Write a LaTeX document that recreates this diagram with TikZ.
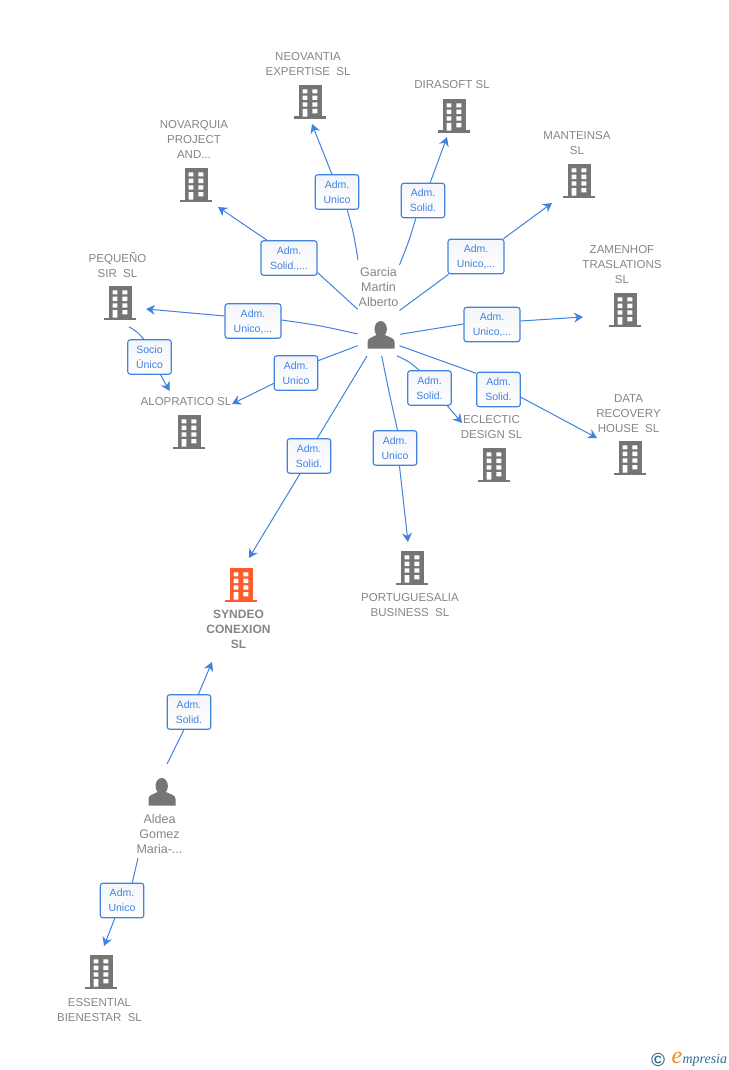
\documentclass[tikz,border=0pt]{standalone}
\usepackage{fontspec}
\setmainfont{Liberation Sans}
\newfontfamily\logofont{Liberation Serif}
\usetikzlibrary{arrows.meta,calc}
\definecolor{linkblue}{HTML}{3F82E0}
\definecolor{labelgray}{HTML}{858585}
\definecolor{icongray}{HTML}{757575}
\definecolor{hotorange}{HTML}{FF5A2B}
\definecolor{logoteal}{HTML}{2F6F8F}
\definecolor{logoorange}{HTML}{F08A1D}
\definecolor{boxtop}{HTML}{F4F5FA}
\tikzset{
  x=1pt,y=-1pt,
  building/.pic={
    \fill[pic actions] (-11,-17) rectangle (11.5,15);
    \fill[pic actions] (-16,14.5) rectangle (16,17);
    \fill[white] (-7.3,-12.7) rectangle (-2.7,-8.7) (2.3,-12.7) rectangle (7.3,-8.7)
                 (-7.3,-6.3) rectangle (-2.7,-2) (2.3,-6.3) rectangle (7.3,-2)
                 (-7.3,0.3) rectangle (-2.7,4.7) (2.3,0.3) rectangle (7.3,4.7)
                 (-7.3,7) rectangle (-2.7,14.7) (2.3,7) rectangle (7.3,11.3);
  },
  person/.pic={
    \fill[icongray] (-0.3,-6) ellipse[x radius=6.2,y radius=8];
    \fill[icongray] (-13.5,13.5) -- (-13.5,7) .. controls (-13.5,3) and (-9,2.5) .. (-4.5,0)
      -- (3.9,0) .. controls (9,2.5) and (13.5,3) .. (13.5,7) -- (13.5,13.5) -- cycle;
  },
  anchorpt/.style={inner sep=0pt,minimum size=0pt,outer sep=0pt},
  lab/.style={align=center,text=labelgray,font=\fontsize{11.5}{15}\selectfont,inner sep=0pt},
  boldlab/.style={lab,font=\fontsize{12}{15}\selectfont\bfseries},
  perslab/.style={lab,font=\fontsize{12.5}{15}\selectfont},
  role/.style={draw=linkblue,line width=1.1pt,rounded corners=2.5pt,top color=boxtop,bottom color=white,
     align=center,text=linkblue,font=\fontsize{10.5}{15}\selectfont,
     inner sep=0pt,minimum height=34.5pt,text depth=0pt},
  narrow/.style={role,minimum width=43.5pt},
  wide/.style={role,minimum width=56pt},
  conn/.style={draw=linkblue,line width=1pt},
  tip/.style={conn,-{Stealth[length=9pt,width=10pt,inset=3pt]}},
}
\begin{document}
\begin{tikzpicture}
\useasboundingbox (0,0) rectangle (728,1070);
% building and person anchors
\node[anchorpt] (neo) at (310,102) {};
\node[anchorpt] (dira) at (454,116) {};
\node[anchorpt] (nova) at (196,185) {};
\node[anchorpt] (mant) at (579,181) {};
\node[anchorpt] (zame) at (625,310) {};
\node[anchorpt] (data) at (630,458) {};
\node[anchorpt] (ecle) at (494,465) {};
\node[anchorpt] (port) at (412,568) {};
\node[anchorpt] (synd) at (241,585) {};
\node[anchorpt] (alop) at (189,432) {};
\node[anchorpt] (pequ) at (120,303) {};
\node[anchorpt] (esse) at (101,972) {};
\node[anchorpt] (garc) at (381,335) {};
\node[anchorpt] (alde) at (162,792) {};
% icons
\foreach \n in {neo,dira,nova,mant,zame,data,ecle,port,alop,pequ,esse}
  \path (\n) pic[fill=icongray] {building};
\path (synd) pic[fill=hotorange] {building};
\path (garc) pic {person};
\path (alde) pic {person};
% labels
\node[lab] (lneo) at (308,64) {NEOVANTIA\\EXPERTISE\ \ SL};
\node[lab] (ldira) at (452,84.5) {DIRASOFT SL};
\node[lab] (lnova) at (194,139.5) {NOVARQUIA\\PROJECT\\AND...};
\node[lab] (lmant) at (577,143) {MANTEINSA\\SL};
\node[lab] (lzame) at (622,264.5) {ZAMENHOF\\TRASLATIONS\\SL};
\node[lab] (lpequ) at (117.5,265) {PEQUEÑO\\SIR\ \ SL};
\node[lab] (lalop) at (186,401.5) {ALOPRATICO SL};
\node[lab] (ldata) at (628.5,413.5) {DATA\\RECOVERY\\HOUSE\ \ SL};
\node[lab] (lecle) at (491.5,427) {ECLECTIC\\DESIGN SL};
\node[lab] (lport) at (410,605) {PORTUGUESALIA\\BUSINESS\ \ SL};
\node[boldlab] (lsynd) at (238.5,629) {SYNDEO\\CONEXION\\SL};
\node[lab] (lesse) at (99.5,1010) {ESSENTIAL\\BIENESTAR\ \ SL};
\node[perslab] (lgarc) at (378.5,287) {Garcia\\Martin\\Alberto};
\node[perslab] (lalde) at (159.5,834) {Aldea\\Gomez\\Maria-...};
% connector ends
\coordinate (s1) at (358,260);  \coordinate (e1) at (312,124);
\coordinate (s2) at (399.5,265);  \coordinate (e2) at (447,137);
\coordinate (s3) at (399.5,310.5);  \coordinate (e3) at (552,203);
\coordinate (s4) at (400,334.3);  \coordinate (e4) at (583,317);
\coordinate (s5) at (399.5,345.7);  \coordinate (e5) at (597,438);
\coordinate (s6) at (396.7,355.7);  \coordinate (e6) at (462,423);
\coordinate (s7) at (381.7,356);  \coordinate (e7) at (408,542);
\coordinate (s8) at (367,356);  \coordinate (e8) at (249,558);
\coordinate (s9) at (357.7,345.7);  \coordinate (e9) at (232,404);
\coordinate (s10) at (357.7,334); \coordinate (e10) at (146,309);
\coordinate (s11) at (357.7,309.3); \coordinate (e11) at (218,207);
\coordinate (s12) at (129,326.7); \coordinate (e12) at (169.5,391);
\coordinate (s13) at (167,764); \coordinate (e13) at (212,662);
\coordinate (s14) at (138,858); \coordinate (e14) at (104,946);
% role boxes
\node[narrow] (b1) at (337,192) {Adm.\\Unico};
\node[narrow] (b2) at (423,200.5) {Adm.\\Solid.};
\node[wide] (b3) at (476,256.5) {Adm.\\Unico,...};
\node[wide] (b4) at (492,324.5) {Adm.\\Unico,...};
\node[narrow] (b5) at (498.5,389.5) {Adm.\\Solid.};
\node[narrow] (b6) at (429.5,388) {Adm.\\Solid.};
\node[narrow] (b7) at (395,448) {Adm.\\Unico};
\node[narrow] (b8) at (309,456) {Adm.\\Solid.};
\node[narrow] (b9) at (296,373) {Adm.\\Unico};
\node[wide] (b10) at (253,321) {Adm.\\Unico,...};
\node[wide] (b11) at (289,258) {Adm.\\Solid.,...};
\node[narrow] (b12) at (149.5,357) {Socio\\Único};
\node[narrow] (b13) at (189,712) {Adm.\\Solid.};
\node[narrow] (b14) at (122,900.5) {Adm.\\Unico};
% connectors
\draw[conn] (s1) .. controls (354,235) .. (b1.-60);
\draw[tip] (b1.106) -- (e1);
\draw[conn] (s2) .. controls (409,241) .. (b2.-112);
\draw[tip] (b2.68) -- (e2);
\draw[conn] (s3) -- (b3.-147);
\draw[tip] (b3.33) -- (e3);
\draw[conn] (s4) -- (b4.179);
\draw[tip] (b4.7) -- (e4);
\draw[conn] (s5) -- (b5.144.5);
\draw[tip] (b5.-19.4) -- (e5);
\draw[conn] (s6) .. controls (409,361.5) .. (b6.120.6);
\draw[tip] (b6.-45.5) -- (e6);
\draw[conn] (s7) .. controls (389,392) .. (b7.82);
\draw[tip] (b7.-76) -- (e7);
\draw[conn] (s8) -- (b8.65);
\draw[tip] (b8.-117) -- (e8);
\draw[conn] (s9) -- (b9.29);
\draw[tip] (b9.-155) -- (e9);
\draw[conn] (s10) .. controls (320,325.5) .. (b10.2);
\draw[tip] (b10.170) -- (e10);
\draw[conn] (s11) -- (b11.-27.7);
\draw[tip] (b11.141.4) -- (e11);
\draw[conn] (s12) .. controls (138,332.5) .. (b12.108);
\draw[tip] (b12.-58.7) -- (e12);
\draw[conn] (s13) -- (b13.-106);
\draw[tip] (b13.62) -- (e13);
\draw[conn] (s14) -- (b14.60);
\draw[tip] (b14.-112) -- (e14);
% logo
\node[anchorpt,text=logoteal,font=\fontsize{19}{19}\selectfont\bfseries] (logoc) at (658,1059.5) {©};
\node[anchorpt,text=logoorange,font=\logofont\itshape\fontsize{24}{24}\selectfont] (logoe) at (677,1058) {e};
\node[anchorpt,anchor=west,text=logoteal,font=\logofont\itshape\fontsize{14}{14}\selectfont] (logom) at (682.5,1060) {mpresia};
\end{tikzpicture}
\end{document}
